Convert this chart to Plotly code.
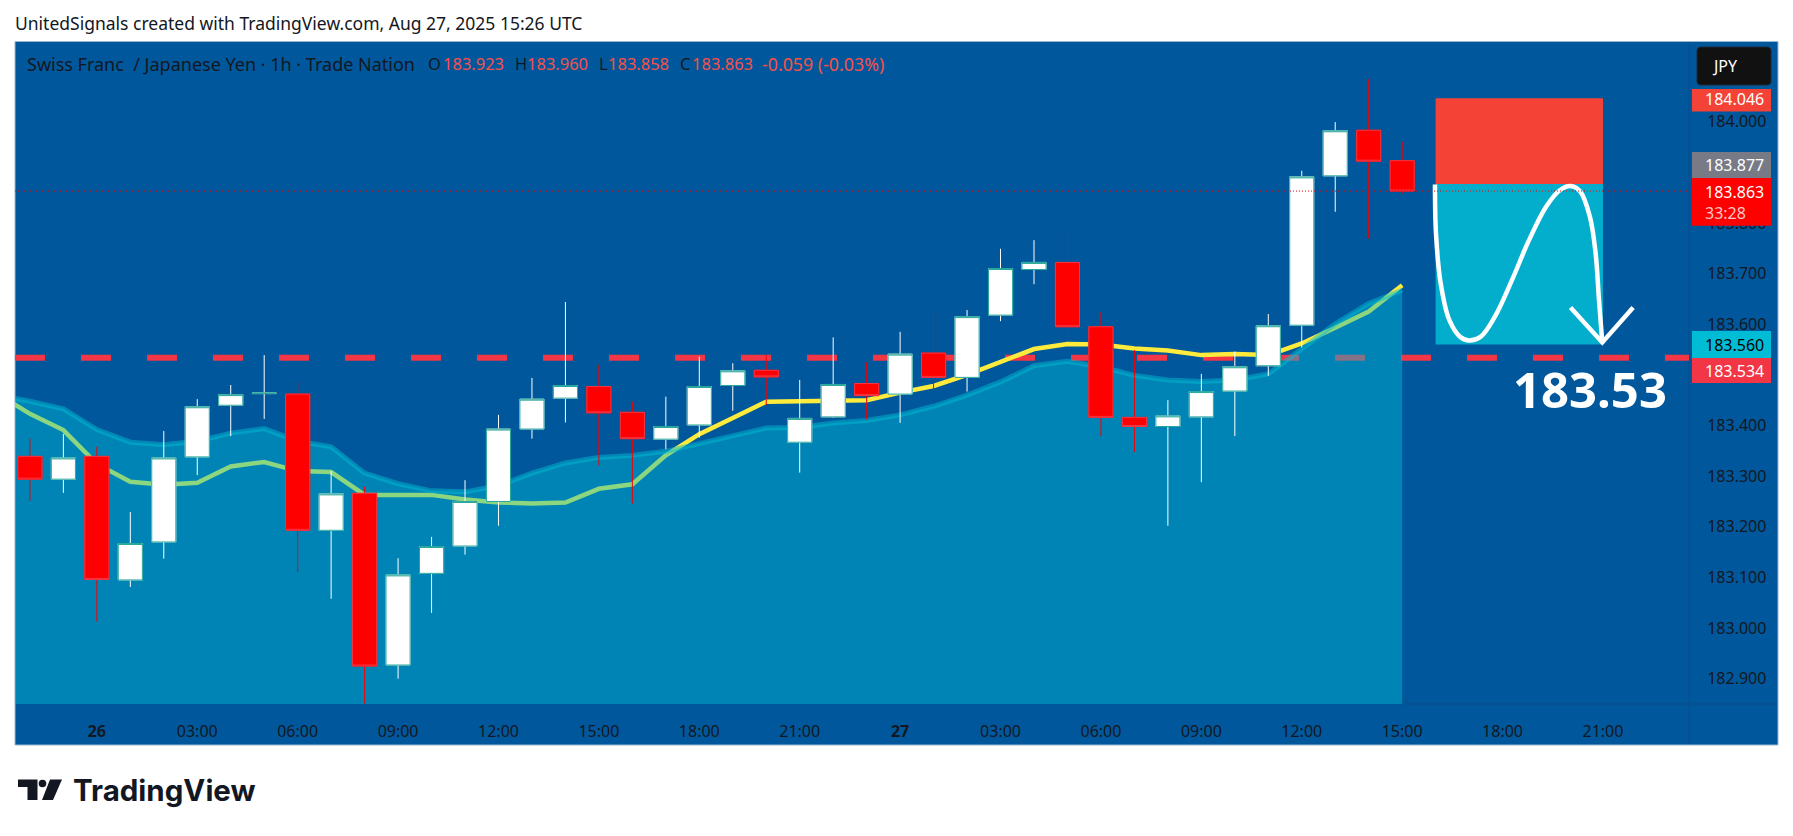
import plotly.graph_objects as go

# ---------- data ----------
opens = [183.339,183.294,183.339,183.095,183.170,183.338,183.440,183.463,183.462,183.193,183.266,182.927,183.108,183.162,183.250,183.393,183.454,183.477,183.426,183.373,183.401,183.479,183.509,183.367,183.417,183.483,183.462,183.543,183.495,183.618,183.708,183.722,183.595,183.416,183.398,183.417,183.468,183.518,183.598,183.893,183.983,183.923]
highs = [183.374,183.383,183.358,183.229,183.389,183.452,183.480,183.539,183.486,183.310,183.279,183.138,183.180,183.292,183.421,183.494,183.644,183.520,183.447,183.457,183.536,183.523,183.539,183.490,183.574,183.525,183.585,183.624,183.628,183.749,183.766,183.787,183.624,183.549,183.450,183.502,183.546,183.620,183.903,183.999,184.084,183.960]
lows = [183.251,183.267,183.013,183.081,183.137,183.302,183.379,183.413,183.111,183.058,182.851,182.900,183.030,183.145,183.202,183.374,183.406,183.321,183.246,183.353,183.376,183.429,183.440,183.307,183.415,183.412,183.405,183.472,183.467,183.606,183.679,183.578,183.379,183.348,183.202,183.288,183.379,183.498,183.554,183.822,183.769,183.858]
closes = [183.294,183.336,183.096,183.167,183.336,183.437,183.461,183.464,183.193,183.265,182.925,183.105,183.161,183.250,183.393,183.452,183.479,183.425,183.374,183.398,183.477,183.508,183.496,183.414,183.481,183.459,183.541,183.495,183.615,183.710,183.722,183.595,183.416,183.398,183.419,183.467,183.516,183.597,183.891,183.982,183.922,183.863]
ema_line = [183.464,183.423,183.391,183.324,183.289,183.283,183.287,183.319,183.328,183.310,183.308,183.263,183.263,183.263,183.254,183.248,183.246,183.248,183.275,183.284,183.341,183.383,183.415,183.447,183.448,183.450,183.450,183.465,183.478,183.500,183.526,183.551,183.561,183.560,183.552,183.548,183.539,183.541,183.539,183.562,183.593,183.625,183.677]
band_top = [183.460,183.448,183.433,183.392,183.367,183.362,183.369,183.385,183.394,183.369,183.358,183.306,183.285,183.271,183.269,183.281,183.306,183.326,183.337,183.341,183.349,183.365,183.379,183.395,183.396,183.405,183.410,183.421,183.438,183.460,183.486,183.518,183.527,183.516,183.499,183.490,183.487,183.490,183.502,183.552,183.601,183.641,183.667]
curve_x = [41.98,42.01,42.15,42.41,42.75,43.00,43.34,43.77,44.28,44.79,45.30,45.72,46.03,46.32,46.61,46.78,46.88,46.98]
curve_y = [183.876,183.780,183.681,183.608,183.574,183.568,183.575,183.615,183.687,183.766,183.832,183.865,183.873,183.862,183.812,183.740,183.648,183.564]
arrow_x = [46.03,46.98,47.90]
arrow_y = [183.633,183.564,183.633]
tick_idx = [2,5,8,11,14,17,20,23,26,29,32,35,38,41,44,47]
tick_txt = ['<b>26</b>','03:00','06:00','09:00','12:00','15:00','18:00','21:00','<b>27</b>','03:00','06:00','09:00','12:00','15:00','18:00','21:00']
price_ticks = [182.9,183.0,183.1,183.2,183.3,183.4,183.6,183.7,183.8,184.0]
entry, stop, target, level, last = 183.877, 184.046, 183.560, 183.534, 183.863

# ---------- styling ----------
BLUE = '#01579B'
FONT = 'Noto Sans'
DARK = '#131722'
W, H = 1793, 836
L, R, T, B = 15, 1689, 41, 704
XR = [-0.4455, 49.57]
YR = [182.9 + (678.7 - B) / 506.4, 182.9 + (678.7 - T) / 506.4]
def px(x): return (x - L) / (R - L)
def py(y): return (B - y) / (B - T)
idx = list(range(len(opens)))
idx_ext = list(range(-1, len(opens)))

fig = go.Figure()
fig.add_trace(go.Scatter(x=idx_ext, y=ema_line, mode='lines', line=dict(color='#FFEB3B', width=4.5), hoverinfo='skip', xaxis='x', yaxis='y'))
fig.add_trace(go.Scatter(x=idx_ext, y=band_top, mode='lines', fill='tozeroy', fillcolor='rgba(0,188,212,0.45)', line=dict(color='rgba(0,188,212,0.5)', width=5), hoverinfo='skip', xaxis='x', yaxis='y'))
# wicks
fig.add_trace(go.Candlestick(x=idx, open=opens, high=highs, low=lows, close=closes,
    increasing=dict(line=dict(color='#FFFFFF', width=1), fillcolor='#FFFFFF'),
    decreasing=dict(line=dict(color='#F20000', width=1), fillcolor='#FF0000'), xaxis='x2', yaxis='y2'))
# bodies
tops = [max(o, c) for o, c in zip(opens, closes)]
bots = [min(o, c) for o, c in zip(opens, closes)]
fig.add_trace(go.Candlestick(x=idx, open=opens, high=tops, low=bots, close=closes,
    increasing=dict(line=dict(color='#26A69A', width=1), fillcolor='#FFFFFF'),
    decreasing=dict(line=dict(color='#F23645', width=1), fillcolor='#FF0000'), xaxis='x2', yaxis='y2'))
fig.add_trace(go.Scatter(x=curve_x, y=curve_y, mode='lines', line=dict(color='white', width=4.5, shape='spline'), hoverinfo='skip', xaxis='x2', yaxis='y2'))
fig.add_trace(go.Scatter(x=arrow_x, y=arrow_y, mode='lines', line=dict(color='white', width=4.5), hoverinfo='skip', xaxis='x2', yaxis='y2'))

def prect(x0, y0, x1, y1, color, layer='above'):
    return dict(type='rect', xref='paper', yref='paper', x0=px(x0), x1=px(x1), y0=py(y0), y1=py(y1), fillcolor=color, line=dict(width=0), layer=layer)
def ppath(pts, color, layer='above'):
    d = 'M ' + ' L '.join(f'{px(a):.5f},{py(b):.5f}' for a, b in pts) + ' Z'
    return dict(type='path', xref='paper', yref='paper', path=d, fillcolor=color, line=dict(width=0), layer=layer)

shapes = [
    dict(type='rect', xref='paper', yref='paper', x0=px(15), x1=px(1778), y0=py(41.5), y1=py(745), fillcolor=BLUE, line=dict(color='#9DB7CF', width=1), layer='below'),
    dict(type='line', xref='paper', yref='paper', x0=px(1689), x1=px(1689), y0=py(42), y1=py(744), line=dict(color='#0A4D87', width=1), layer='below'),
    dict(type='line', xref='paper', yref='paper', x0=px(1402), x1=px(1777), y0=py(704), y1=py(704), line=dict(color='#0A4D87', width=1), layer='below'),
    dict(type='line', xref='x', yref='y', x0=XR[0], x1=XR[1], y0=level, y1=level, line=dict(color='#F23645', width=6, dash='30px,36px'), layer='below'),
    dict(type='rect', xref='x', yref='y', x0=42, x1=47, y0=entry, y1=stop, fillcolor='#F44336', line=dict(width=0), layer='below'),
    dict(type='rect', xref='x', yref='y', x0=42, x1=47, y0=target, y1=entry, fillcolor='#03AECD', line=dict(width=0), layer='below'),
    dict(type='line', xref='x', yref='y', x0=XR[0], x1=XR[1], y0=last, y1=last, line=dict(color='#F20000', width=1, dash='1px,2px'), layer='above'),
    # price badges
    prect(1692, 89, 1771, 111.5, '#F44336'),
    prect(1692, 152, 1771, 178, '#787B86'),
    prect(1692, 178, 1771, 225.7, '#FF0000'),
    prect(1692, 331, 1771, 358, '#00BCD4'),
    prect(1692, 358, 1771, 383, '#F23645'),
    # logo
    ppath([(18,779.5),(37.5,779.5),(37.5,800),(27.5,800),(27.5,787),(18,787)], DARK, 'below'),
    ppath([(50,779.5),(62,779.5),(53,800),(42,800)], DARK, 'below'),
    dict(type='circle', xref='paper', yref='paper', x0=px(38.7), x1=px(46.3), y0=py(779.7), y1=py(787.3), fillcolor=DARK, line=dict(width=0), layer='below'),
]
# JPY box with rounded corners
shapes.append(dict(type='path', xref='paper', yref='paper', fillcolor='#111111', line=dict(color='#1F2A3A', width=1), layer='above',
    path=f'M {px(1701):.5f},{py(47):.5f} L {px(1767):.5f},{py(47):.5f} Q {px(1771):.5f},{py(47):.5f} {px(1771):.5f},{py(51):.5f} L {px(1771):.5f},{py(81):.5f} Q {px(1771):.5f},{py(85):.5f} {px(1767):.5f},{py(85):.5f} L {px(1701):.5f},{py(85):.5f} Q {px(1697):.5f},{py(85):.5f} {px(1697):.5f},{py(81):.5f} L {px(1697):.5f},{py(51):.5f} Q {px(1697):.5f},{py(47):.5f} {px(1701):.5f},{py(47):.5f} Z'))

def txt(x, y, s, size, color=DARK, anchor='left', font=FONT):
    return dict(x=px(x), y=py(y), xref='paper', yref='paper', text=s, showarrow=False, xanchor=anchor, yanchor='middle',
                font=dict(family=font, size=size, color=color), borderpad=0, borderwidth=0)
RED = '#F7504A'
ann = [
    txt(15, 23, 'UnitedSignals created with TradingView.com, Aug 27, 2025 15:26 UTC', 17.5),
    txt(27, 64, 'Swiss Franc \u00a0/ Japanese Yen · 1h · Trade Nation', 18),
    txt(428, 64, 'O', 16.5), txt(443, 64, '183.923', 16.5, RED),
    txt(515, 64, 'H', 16.5), txt(527, 64, '183.960', 16.5, RED),
    txt(599, 64, 'L', 16.5), txt(608, 64, '183.858', 16.5, RED),
    txt(680, 64, 'C', 16.5), txt(692, 64, '183.863', 16.5, RED),
    txt(762, 64, '-0.059 (-0.03%)', 17.8, RED),
    txt(1725, 66, 'JPY', 16, 'white', 'center'),
    txt(1734, 99, '184.046', 16, 'white', 'center'),
    txt(1734, 165, '183.877', 16, 'white', 'center'),
    txt(1734, 191.7, '183.863', 16, 'white', 'center'),
    txt(1705, 212.7, '33:28', 16, '#FFC9C9', 'left'),
    txt(1734, 344.7, '183.560', 16, '#000000', 'center'),
    txt(1734, 370.7, '183.534', 16, 'white', 'center'),
    txt(1590, 389, '<b>183.53</b>', 49, 'white', 'center'),
    txt(73, 790, '<b>TradingView</b>', 29.5, DARK, 'left', 'Inter'),
]

axis_common = dict(showgrid=False, zeroline=False, showline=False)
fig.update_layout(
    width=W, height=H, margin=dict(l=L, r=W - R, t=T, b=H - B, pad=0),
    paper_bgcolor='white', plot_bgcolor=BLUE, showlegend=False, boxmode='overlay', boxgap=0.28, boxgroupgap=0,
    hovermode=False, shapes=shapes, annotations=ann,
    xaxis=dict(range=XR, tickmode='array', tickvals=tick_idx, ticktext=tick_txt, ticks='outside', ticklen=13, tickcolor='rgba(0,0,0,0)',
               tickfont=dict(family=FONT, size=16, color=DARK), rangeslider=dict(visible=False), **axis_common),
    yaxis=dict(range=YR, side='right', tickmode='array', tickvals=price_ticks, ticktext=[f'{p:.3f}' for p in price_ticks], ticks='outside', ticklen=14,
               tickcolor='rgba(0,0,0,0)', tickfont=dict(family=FONT, size=16, color=DARK), **axis_common),
    xaxis2=dict(range=XR, overlaying='x', anchor='y2', visible=False, rangeslider=dict(visible=False), **axis_common),
    yaxis2=dict(range=YR, overlaying='y', anchor='x2', visible=False, **axis_common),
)
fig.write_html('out.html', config=dict(displayModeBar=False), post_script="document.body.style.margin='0';document.body.style.overflow='hidden';")
